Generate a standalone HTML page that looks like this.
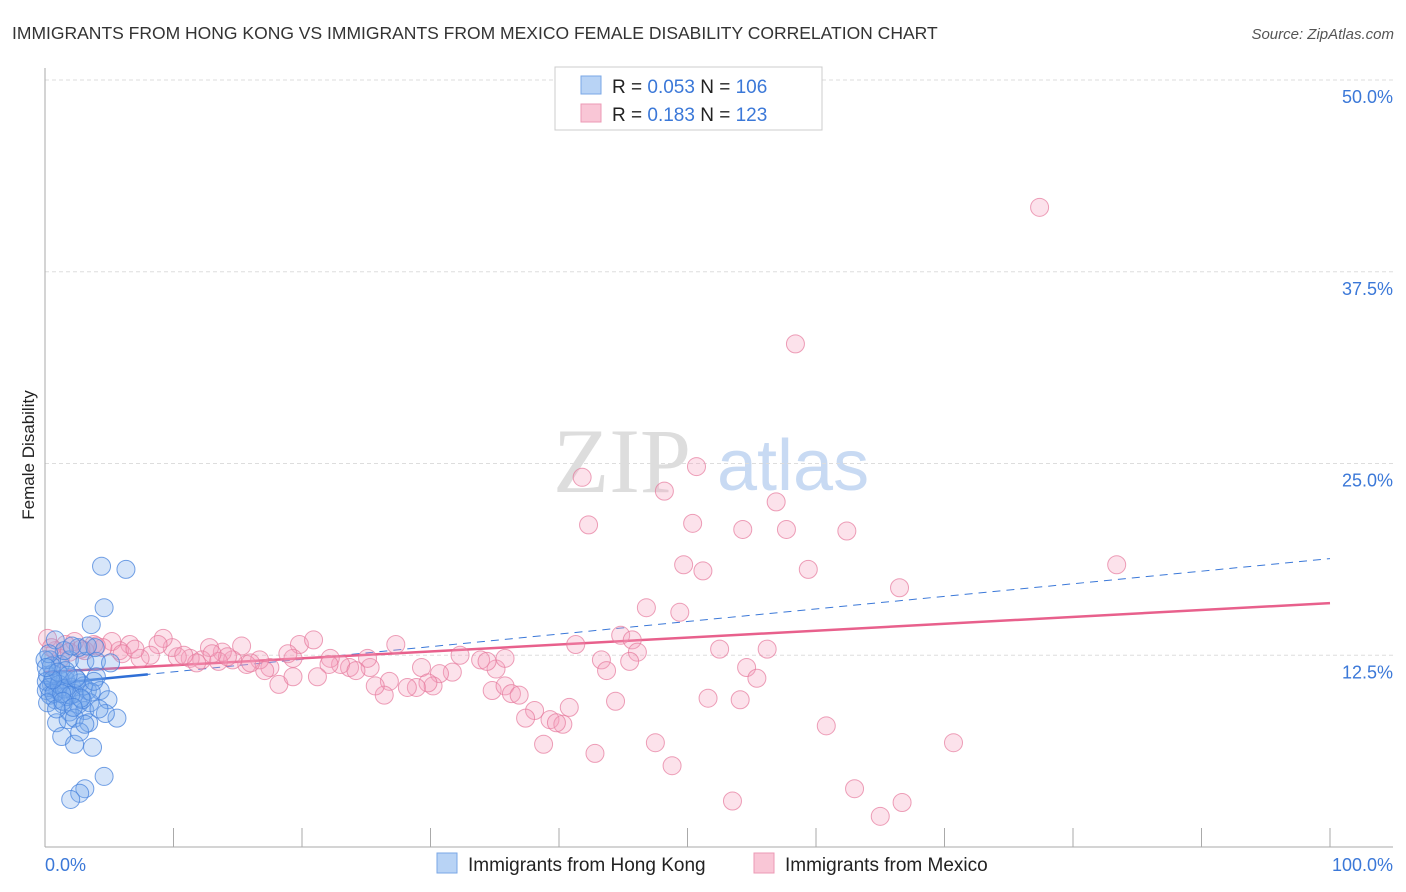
<!DOCTYPE html>
<html><head><meta charset="utf-8"><style>
body{margin:0;background:#fff;font-family:"Liberation Sans",sans-serif;}
svg{display:block}
</style></head><body>
<svg id="chart" width="1406" height="892">
<text x="12" y="39" font-size="17.5" fill="#333">IMMIGRANTS FROM HONG KONG VS IMMIGRANTS FROM MEXICO FEMALE DISABILITY CORRELATION CHART</text>
<text x="1394" y="39" font-size="15" fill="#555" font-style="italic" text-anchor="end">Source: ZipAtlas.com</text>
<text x="34" y="455" font-size="17" fill="#222" text-anchor="middle" transform="rotate(-90 34 455)">Female Disability</text>
<g><text x="553" y="492" font-size="92" font-family="Liberation Serif,serif" fill="#ddd">ZIP</text><text x="717" y="490" font-size="72" fill="#c8daf3">atlas</text></g>
<g id="grid"></g><g id="axes"></g><g id="trend"></g><g id="pts"></g>
<g>
<rect x="555" y="67" width="267" height="63" fill="#fff" stroke="#ccc"/>
<rect x="581" y="76" width="20" height="18" fill="#b8d3f5" stroke="#7aa7e6"/>
<rect x="581" y="104" width="20" height="18" fill="#f9c6d6" stroke="#ec9ab5"/>
<text x="612" y="93" font-size="19" fill="#222">R = <tspan fill="#3b78d8">0.053</tspan>    N = <tspan fill="#3b78d8">106</tspan></text>
<text x="612" y="121" font-size="19" fill="#222">R =  <tspan fill="#3b78d8">0.183</tspan>    N = <tspan fill="#3b78d8">123</tspan></text>
</g>
<g>
<rect x="437" y="853" width="20" height="20" fill="#b8d3f5" stroke="#7aa7e6"/>
<text x="468" y="871" font-size="19" fill="#222">Immigrants from Hong Kong</text>
<rect x="754" y="853" width="20" height="20" fill="#f9c6d6" stroke="#ec9ab5"/>
<text x="785" y="871" font-size="19" fill="#222">Immigrants from Mexico</text>
</g>
</svg>
<script>
const yTicks=[12.5,25,37.5,50];
const yTickLabels=["12.5%","25.0%","37.5%","50.0%"];
const xTickLabels=["0.0%","100.0%"];
const blueX=[4.4,6.3,4.6,3.6,0.8,0.4,1.2,1.9,3.1,4.0,5.1,2.6,3.9,0.2,0.5,1.0,1.6,2.1,2.7,3.3,4.0,4.3,4.9,0.8,1.4,1.9,2.6,3.1,3.5,0.9,1.8,2.3,3.4,5.6,4.7,1.3,2.3,3.7,2.7,3.1,4.6,3.1,2.7,2.0,0.1,0.4,0.1,0.6,1.2,1.7,2.3,2.9,1.5,2.1,3.3,1.6,0.0,0.3,0.7,1.1,1.5,2.0,2.5,3.0,3.6,0.2,0.9,1.3,2.4,2.8,0.5,1.0,1.8,0.3,0.6,1.4,2.2,3.8,4.2,0.1];
const blueY=[18.3,18.1,15.6,14.5,13.5,12.2,11.9,12.2,12.1,12.1,12.0,13.0,13.0,11.2,10.6,10.2,10.9,10.4,10.7,10.2,11.1,10.2,9.6,9.6,9.3,8.8,9.3,8.9,9.4,8.1,8.3,8.4,8.1,8.4,8.7,7.2,6.7,6.5,7.5,8.0,4.6,3.8,3.5,3.1,10.2,9.9,10.8,11.3,10.9,9.8,10.0,9.6,12.8,13.1,13.1,11.5,12.2,10.4,10.0,10.6,10.3,9.9,10.9,10.5,10.1,9.4,9.0,10.0,11.0,9.7,11.8,11.4,11.2,12.6,10.9,9.5,9.1,10.8,9.0,11.7];
const pinkX=[77.4,58.4,50.7,41.8,48.2,56.9,42.3,50.4,54.3,57.7,62.4,49.7,51.2,59.4,83.4,66.5,46.8,49.4,44.8,45.7,46.1,41.3,52.5,56.2,43.3,45.5,43.7,54.6,55.4,44.4,51.6,54.1,60.8,70.7,47.5,38.8,42.8,48.8,53.5,63.0,66.7,65.0,40.8,38.1,37.4,39.3,40.3,39.8,34.8,35.8,36.3,36.9,35.1,35.8,33.9,34.4,32.3,31.7,30.7,29.3,30.2,29.8,28.9,28.2,26.8,26.4,25.7,25.3,25.1,27.3,23.7,23.0,22.2,22.1,21.2,19.8,20.9,19.3,18.9,18.2,17.5,16.7,15.7,15.3,14.6,13.8,13.5,12.8,12.2,11.3,10.3,9.9,9.2,8.8,8.2,7.4,6.6,5.8,5.2,4.5,3.8,3.1,2.3,1.6,0.8,0.2,1.2,1.9,17.1,19.3,24.2,11.8,14.2,16.0,6.0,7.0,2.8,4.0,0.5,10.8,13.0];
const pinkY=[41.7,32.8,24.8,24.1,23.2,22.5,21.0,21.1,20.7,20.7,20.6,18.4,18.0,18.1,18.4,16.9,15.6,15.3,13.8,13.5,12.7,13.2,12.9,12.9,12.2,12.1,11.5,11.7,11.0,9.5,9.7,9.6,7.9,6.8,6.8,6.7,6.1,5.3,3.0,3.8,2.9,2.0,9.1,8.9,8.4,8.3,8.0,8.1,10.2,10.5,10.0,9.9,11.6,12.3,12.2,12.1,12.5,11.4,11.3,11.7,10.5,10.7,10.4,10.4,10.8,9.9,10.5,11.7,12.3,13.2,11.7,11.9,12.3,11.9,11.1,13.2,13.5,12.3,12.6,10.6,11.7,12.2,11.9,13.1,12.2,12.7,12.1,13.0,12.2,12.3,12.4,13.0,13.6,13.2,12.5,12.3,13.2,12.8,13.4,13.0,13.2,12.8,13.4,13.2,12.8,13.6,12.3,12.7,11.5,11.1,11.5,12.0,12.4,12.0,12.6,12.9,12.9,13.1,13.0,12.5,12.6];
const blueTrend=[10.6,18.8];
const pinkTrend=[11.4,15.9];
const X=v=>45+v*12.85, Y=v=>847-v*15.34;
const NS="http://www.w3.org/2000/svg";
function mk(t,a,p){const e=document.createElementNS(NS,t);for(const k in a)e.setAttribute(k,a[k]);p.appendChild(e);return e;}
const grid=document.getElementById('grid'),axes=document.getElementById('axes'),trend=document.getElementById('trend'),pts=document.getElementById('pts');
yTicks.forEach((t,i)=>{
 const l=mk('line',{x1:45,x2:1393,y1:Y(t),y2:Y(t),stroke:'#ddd','stroke-dasharray':'4,3'},grid);
 
 
 const tx=mk('text',{x:1393,y:Y(t)+23,'font-size':18,fill:'#3b78d8','text-anchor':'end'},grid);
 tx.textContent=yTickLabels[i];
 
 
});
const ya=mk('line',{x1:45,x2:45,y1:68,y2:847,stroke:'#aaa'},axes);


const xa=mk('line',{x1:45,x2:1393,y1:847,y2:847,stroke:'#aaa'},axes);


for(let i=1;i<=10;i++){const t=mk('line',{x1:X(i*10),x2:X(i*10),y1:828,y2:847,stroke:'#aaa'},axes);
 
 }
[[0,'start',45],[100,'end',1393]].forEach((d,i)=>{const t=mk('text',{x:d[2],y:871,'font-size':18,fill:'#3b78d8','text-anchor':d[1]},axes);t.textContent=xTickLabels[i];
 
 });
const bAt=v=>blueTrend[0]+(blueTrend[1]-blueTrend[0])*v/100;
let e=mk('line',{x1:X(0),y1:Y(bAt(0)),x2:X(100),y2:Y(bAt(100)),stroke:'#3b78d8','stroke-width':1,'stroke-dasharray':'8,6'},trend);


e=mk('line',{x1:X(0),y1:Y(bAt(0)),x2:X(8),y2:Y(bAt(8)),stroke:'#2f6fd6','stroke-width':2.5},trend);


e=mk('line',{x1:X(0),y1:Y(pinkTrend[0]),x2:X(100),y2:Y(pinkTrend[1]),stroke:'#e8608c','stroke-width':2.5},trend);


pinkX.forEach((x,i)=>{const c=mk('circle',{cx:X(x),cy:Y(pinkY[i]),r:9,fill:'rgba(244,160,190,0.3)',stroke:'rgba(230,120,155,0.7)'},pts);
 
 });
blueX.forEach((x,i)=>{const c=mk('circle',{cx:X(x),cy:Y(blueY[i]),r:9,fill:'rgba(120,170,235,0.3)',stroke:'rgba(70,130,220,0.75)'},pts);
 
 });
</script>
</body></html>
